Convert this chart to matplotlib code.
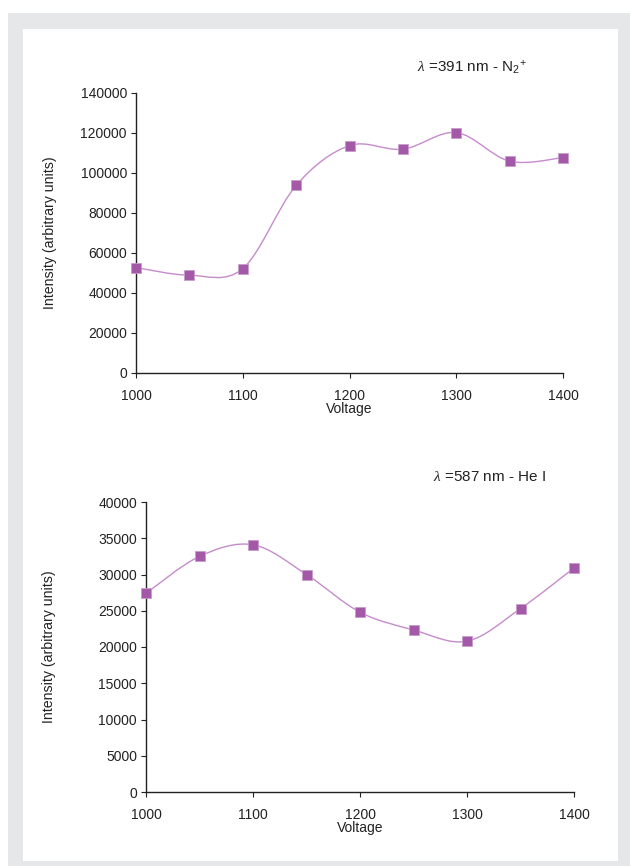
import matplotlib.pyplot as plt
from matplotlib.path import Path
from matplotlib.patches import PathPatch, Rectangle

plt.rcParams['font.family'] = ['Liberation Sans', 'DejaVu Sans']
plt.rcParams['mathtext.fontset'] = 'custom'
plt.rcParams['mathtext.rm'] = 'Liberation Sans'
plt.rcParams['mathtext.it'] = 'Liberation Serif:italic'

voltage = [1000, 1050, 1100, 1150, 1200, 1250, 1300, 1350, 1400]
n2_intensity = [52700, 48900, 52200, 93800, 113700, 111900, 120200, 105900, 107700]
he_intensity = [27400, 32500, 34100, 30000, 24800, 22350, 20800, 25300, 30900]

marker_color = '#A358A8'
line_color = '#C68BCB'


def smooth_path(x, y):
    # bezier control points like the spreadsheet "smoothed line" option
    verts = [(x[0], y[0])]
    codes = [Path.MOVETO]
    n = len(x)
    for i in range(n - 1):
        x0, y0 = (x[i - 1], y[i - 1]) if i > 0 else (x[i], y[i])
        x3, y3 = (x[i + 2], y[i + 2]) if i + 2 < n else (x[i + 1], y[i + 1])
        c1 = (x[i] + (x[i + 1] - x0) / 6, y[i] + (y[i + 1] - y0) / 6)
        c2 = (x[i + 1] - (x3 - x[i]) / 6, y[i + 1] - (y3 - y[i]) / 6)
        verts += [c1, c2, (x[i + 1], y[i + 1])]
        codes += [Path.CURVE4] * 3
    return Path(verts, codes)


fig = plt.figure(figsize=(6.3, 8.66), dpi=100)
W, H = 630, 866
# grey frame round the figure
fig.patches.append(Rectangle((8 / W, 0), 1 - 8 / W, 1 - 13 / H, transform=fig.transFigure,
                             facecolor='#E6E7E8', edgecolor='none', zorder=-2))
fig.patches.append(Rectangle((23 / W, 5 / H), (618 - 23) / W, (861 - 29) / H, transform=fig.transFigure,
                             facecolor='white', edgecolor='none', zorder=-1))


def panel(rect, y, ymax, ystep, title, tx, ty, lpad):
    ax = fig.add_axes(rect)
    ax.patch.set_alpha(0)
    ax.add_patch(PathPatch(smooth_path(voltage, y), facecolor='none', edgecolor=line_color, lw=1.0, zorder=2))
    ax.plot(voltage, y, ls='none', marker='s', ms=6.5, color=marker_color,
            markeredgecolor='#C79CCB', markeredgewidth=0.6, zorder=3, clip_on=False)
    ax.set_xlim(1000, 1400)
    ax.set_ylim(0, ymax)
    ax.set_xticks(range(1000, 1401, 100))
    ax.set_yticks(range(0, ymax + 1, ystep))
    for s in ['top', 'right']:
        ax.spines[s].set_visible(False)
    for s in ['left', 'bottom']:
        ax.spines[s].set_linewidth(1.0)
        ax.spines[s].set_color('#222222')
    ax.tick_params(direction='out', length=3.5, width=0.8, labelsize=10, colors='#222222', pad=3)
    ax.tick_params(axis='x', pad=8)
    ax.set_xlabel('Voltage', fontsize=10, color='#222222', labelpad=-1)
    ax.set_ylabel('Intensity (arbitrary units)', fontsize=10.2, color='#222222', labelpad=lpad)
    fig.text(tx / W, 1 - ty / H, title, fontsize=11, ha='center', va='center', color='#222222')
    return ax


panel([136 / W, 1 - 373 / H, 427 / W, 280 / H], n2_intensity, 140000, 20000,
      r'$\mathit{\lambda}$ =391 nm - N$_{2}{}^{+}$', 472, 68, 17)
panel([146 / W, 1 - 792 / H, 428 / W, 290 / H], he_intensity, 40000, 5000,
      r'$\mathit{\lambda}$ =587 nm - He I', 490, 477, 30)

fig.savefig('out.png', dpi=100)
